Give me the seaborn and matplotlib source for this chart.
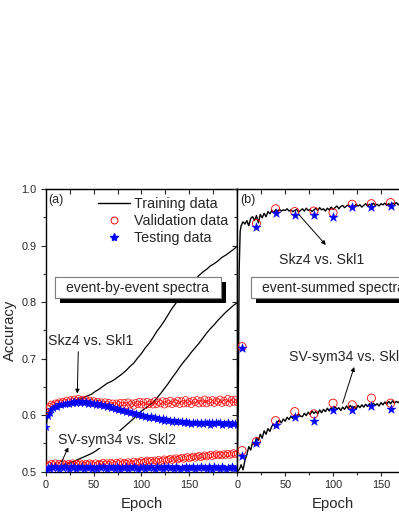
import numpy as np
import matplotlib
matplotlib.use("Agg")
import matplotlib.pyplot as plt
import matplotlib.patheffects as pe
from matplotlib.lines import Line2D
from matplotlib.patches import Rectangle
from matplotlib.ticker import FixedLocator
import seaborn as sns

# ---------------- panel (a): event-by-event spectra ----------------
# markers read every 2 epochs
a_epoch = np.arange(0, 201, 2)
a_val_skz = [.606, .612, .615, .619, .617, .621, .620, .623, .621, .624, .622,
             .626, .623, .627, .624, .628, .625, .629, .626, .627, .624,
             .628, .623, .626, .622, .625, .621, .624, .620, .623, .619,
             .623, .618, .622, .617, .621, .616, .621, .618, .622, .617,
             .622, .617, .623, .618, .621, .616, .622, .619, .624, .618,
             .623, .617, .624, .619, .622, .618, .625, .619, .623, .620,
             .625, .618, .624, .620, .626, .619, .623, .621, .626, .619,
             .625, .620, .627, .621, .624, .619, .626, .622, .627, .620,
             .625, .621, .628, .620, .626, .622, .627, .621, .625, .623,
             .628, .621, .626, .622, .629, .621, .627, .623, .628, .622]
a_test_skz = [.578, .598, .604, .611, .612, .616, .615, .619, .617, .620, .619,
              .622, .620, .623, .621, .624, .622, .625, .622, .624, .621,
              .624, .620, .623, .619, .622, .618, .621, .617, .620, .616,
              .618, .614, .617, .612, .615, .610, .613, .609, .611, .607,
              .609, .605, .607, .603, .606, .601, .604, .600, .602, .598,
              .600, .597, .599, .595, .598, .594, .596, .593, .595, .591,
              .594, .590, .593, .589, .592, .588, .591, .587, .590, .587,
              .589, .585, .589, .586, .588, .584, .588, .585, .588, .584,
              .587, .584, .588, .585, .587, .583, .588, .584, .587, .585,
              .587, .583, .586, .584, .587, .582, .586, .584, .586, .583]
a_val_sv = [.510, .513, .511, .514, .512, .515, .511, .514, .512, .515, .513,
            .511, .514, .512, .515, .511, .514, .512, .515, .513, .511,
            .514, .512, .515, .513, .511, .515, .512, .514, .513, .516,
            .513, .515, .512, .516, .514, .512, .516, .514, .517, .513,
            .516, .514, .517, .515, .513, .518, .515, .517, .516, .519,
            .516, .518, .520, .517, .519, .516, .520, .518, .521, .518,
            .520, .522, .519, .521, .523, .520, .522, .524, .521, .523,
            .525, .522, .524, .526, .523, .525, .527, .524, .526, .528,
            .525, .527, .529, .526, .528, .530, .527, .529, .531, .528,
            .530, .528, .531, .529, .532, .529, .531, .533, .530, .532]
a_test_sv = [.503, .508, .505, .509, .506, .510, .507, .505, .509, .506, .510,
             .507, .504, .509, .506, .510, .505, .508, .506, .509, .505,
             .508, .506, .510, .505, .508, .507, .504, .509, .506, .510,
             .507, .505, .509, .506, .508, .504, .509, .507, .505, .508,
             .506, .509, .505, .508, .506, .510, .507, .504, .508, .506,
             .509, .505, .508, .506, .510, .507, .505, .509, .506, .508,
             .505, .509, .507, .510, .506, .508, .505, .509, .507, .504,
             .508, .506, .510, .505, .508, .507, .509, .505, .508, .506,
             .509, .506, .508, .505, .510, .507, .505, .509, .506, .508,
             .505, .509, .507, .504, .508, .506, .510, .507, .505, .508]

# training curves
a_train_epoch = [0, 1, 2] + list(range(4, 201, 4))
a_train_skz = [.555, .585, .600,
               .608, .614, .617, .620, .621, .623, .625, .627, .628, .631,
               .634, .637, .642, .646, .651, .656, .659, .663, .668, .673,
               .679, .686, .692, .701, .709, .719, .727, .737, .748, .757,
               .767, .778, .789, .798, .808, .816, .825, .833, .840, .847,
               .853, .858, .864, .868, .873, .879, .883, .888, .893, .899]
a_train_sv = [.500, .501, .502,
              .503, .505, .507, .509, .512, .514, .517, .520, .523, .526,
              .529, .532, .536, .541, .546, .552, .558, .564, .570, .576,
              .582, .588, .594, .601, .607, .612, .617, .622, .630, .638,
              .647, .656, .666, .675, .685, .694, .702, .711, .719, .727,
              .736, .745, .753, .760, .768, .775, .782, .788, .794, .799]

# ---------------- panel (b): event-summed spectra ----------------
b_epoch = [5, 20, 40, 60, 80, 100, 120, 140, 160, 180, 200]
b_val_skz = [.721, .939, .965, .960, .961, .958, .973, .974, .976, .975, .977]
b_test_skz = [.719, .932, .957, .954, .954, .950, .968, .968, .970, .969, .971]
b_val_sv = [.537, .553, .590, .606, .602, .621, .618, .630, .621, .625, .627]
b_test_sv = [.528, .550, .582, .597, .590, .609, .609, .616, .611, .614, .615]

b_train_epoch = [0, 1, 2, 3] + list(range(4, 201, 2))
b_train_skz = [.500, .620, .860, .925,
               .935, .942, .938, .944, .935, .948, .951, .944, .953, .940,
               .955, .949, .957, .951, .960, .956, .962, .958, .963, .960,
               .964, .961, .963, .962, .965, .961, .963, .960, .962, .964,
               .959, .962, .965, .961, .966, .962, .964, .960, .963, .966,
               .962, .967, .963, .965, .961, .966, .963, .968, .964, .967,
               .970, .965, .969, .971, .967, .970, .972, .968, .971, .969,
               .973, .970, .972, .968, .971, .974, .970, .973, .971, .975,
               .971, .973, .970, .974, .972, .975, .971, .974, .972, .975,
               .973, .976, .972, .975, .973, .976, .974, .972, .975, .973,
               .976, .974, .977, .973, .975, .976, .974, .977, .975]
b_train_sv = [.500, .501, .504, .507,
              .512, .503, .520, .530, .544, .538, .552, .547, .560, .555,
              .566, .559, .572, .566, .576, .571, .580, .584, .578, .588,
              .591, .586, .593, .589, .596, .592, .598, .594, .600, .596,
              .602, .598, .597, .603, .599, .605, .601, .607, .603, .606,
              .602, .609, .604, .610, .606, .612, .607, .613, .609, .615,
              .610, .613, .608, .614, .610, .616, .611, .617, .612, .615,
              .611, .617, .613, .618, .614, .619, .615, .620, .616, .621,
              .617, .620, .616, .622, .618, .623, .619, .624, .620, .625,
              .621, .624, .622, .625, .621, .626, .622, .625, .623, .626,
              .622, .627, .623, .626, .624, .627, .623, .626, .625]

sns.set_style("ticks")
plt.rcParams['font.family'] = ['Liberation Sans', 'DejaVu Sans']

fig = plt.figure(figsize=(3.99, 5.16), dpi=100)
ax_a = fig.add_axes([0.1145, 0.0862, 0.4802, 0.5475])
ax_b = fig.add_axes([0.5947, 0.0862, 0.4802, 0.5475])

arrow = dict(arrowstyle='-|>', color='black', lw=0.7, mutation_scale=6,
             shrinkA=0, shrinkB=0)


def draw_markers(ax, x, val, test, s_val, s_test, lw_val):
    sns.scatterplot(x=x, y=val, ax=ax, marker='o', s=s_val, facecolor='none',
                    edgecolor='red', linewidth=lw_val, zorder=3)
    sns.scatterplot(x=x, y=test, ax=ax, marker='*', s=s_test, color='blue',
                    edgecolor='blue', linewidth=0.3, zorder=4)


def spectra_box(ax, x0, x1, label):
    rect = Rectangle((x0, 0.8065), x1 - x0, 0.0378, facecolor='white',
                     edgecolor='#7f7f7f', lw=0.8, zorder=6)
    rect.set_path_effects([pe.withSimplePatchShadow(offset=(3.6, -3.6), shadow_rgbFace='black', alpha=1.0),
                           pe.Normal()])
    ax.add_patch(rect)
    ax.text((x0 + x1) / 2, 0.825, label, ha='center', va='center', fontsize=10.1, zorder=7)


# panel (a)
sns.lineplot(x=a_train_epoch, y=a_train_skz, ax=ax_a, color='black', lw=0.9, sort=False, estimator=None)
sns.lineplot(x=a_train_epoch, y=a_train_sv, ax=ax_a, color='black', lw=0.9, sort=False, estimator=None)
draw_markers(ax_a, a_epoch, a_val_skz, a_test_skz, 21, 30, 0.5)
draw_markers(ax_a, a_epoch, a_val_sv, a_test_sv, 21, 30, 0.5)

ax_a.text(2.4, 0.981, "(a)", fontsize=9, ha='left', va='center')
ax_a.text(2.4, 0.731, "Skz4 vs. Skl1", fontsize=10.2, ha='left', va='center')
ax_a.annotate("", xy=(33, 0.638), xytext=(34, 0.712), arrowprops=arrow)
ax_a.text(13.2, 0.556, "SV-sym34 vs. Skl2", fontsize=10.2, ha='left', va='center', zorder=6,
          bbox=dict(facecolor='white', edgecolor='none', pad=1))
ax_a.annotate("", xy=(23.6, 0.543), xytext=(16.7, 0.517), arrowprops=arrow)
spectra_box(ax_a, 9.7, 182.7, "event-by-event spectra")

handles = [Line2D([], [], color='black', lw=1.0),
           Line2D([], [], ls='none', marker='o', ms=5, mfc='none', mec='red', mew=0.7),
           Line2D([], [], ls='none', marker='*', ms=6, color='blue')]
ax_a.legend(handles, ["Training data", "Validation data", "Testing data"],
            loc='upper left', bbox_to_anchor=(0.273, 0.97), frameon=False,
            fontsize=10.3, handlelength=2.24, handletextpad=0.25, labelspacing=0.2,
            borderpad=0, borderaxespad=0)

# panel (b)
sns.lineplot(x=b_train_epoch, y=b_train_skz, ax=ax_b, color='black', lw=1.0, sort=False, estimator=None)
sns.lineplot(x=b_train_epoch, y=b_train_sv, ax=ax_b, color='black', lw=1.0, sort=False, estimator=None)
draw_markers(ax_b, b_epoch, b_val_skz, b_test_skz, 34, 48, 0.6)
draw_markers(ax_b, b_epoch, b_val_sv, b_test_sv, 34, 48, 0.6)

ax_b.text(2.8, 0.981, "(b)", fontsize=9, ha='left', va='center')
ax_b.text(87.9, 0.874, "Skz4 vs. Skl1", fontsize=10.2, ha='center', va='center')
ax_b.annotate("", xy=(92.4, 0.901), xytext=(64.7, 0.954), arrowprops=arrow)
ax_b.text(53.7, 0.703, "SV-sym34 vs. Skl2", fontsize=10.2, ha='left', va='center')
ax_b.annotate("", xy=(122, 0.685), xytext=(110, 0.621), arrowprops=arrow)
spectra_box(ax_b, 14.3, 186, "event-summed spectra")

for ax in (ax_a, ax_b):
    ax.set_xlim(0, 200)
    ax.set_ylim(0.5, 1.0)
    ax.set_xticks([0, 50, 100, 150])
    ax.xaxis.set_minor_locator(FixedLocator([25, 75, 125, 175]))
    ax.set_yticks([0.5, 0.6, 0.7, 0.8, 0.9, 1.0])
    ax.yaxis.set_minor_locator(FixedLocator([0.55, 0.65, 0.75, 0.85, 0.95]))
    ax.tick_params(axis='x', which='major', direction='out', length=3, width=0.8, pad=3, labelsize=7.8)
    ax.tick_params(axis='x', which='minor', direction='out', length=2.5, width=0.8)
    ax.tick_params(axis='y', which='major', direction='out', length=3.5, width=0.8, pad=3, labelsize=7.8)
    ax.tick_params(axis='y', which='minor', direction='out', length=2, width=0.8)
    for sp in ax.spines.values():
        sp.set_visible(True)
        sp.set_linewidth(1.0)
        sp.set_color('black')
    top = ax.secondary_xaxis('top')
    top.set_xticks([0, 50, 100, 150, 200])
    top.xaxis.set_minor_locator(FixedLocator([25, 75, 125, 175]))
    top.tick_params(which='both', direction='in', length=3.5, width=0.8, labeltop=False)
    ax.set_xlabel("Epoch", fontsize=10.7, labelpad=5)

ax_a.set_ylabel("Accuracy", fontsize=10.7, labelpad=3)
ax_b.set_ylabel("")
ax_b.tick_params(axis='y', labelleft=False)

fig.savefig("out.png", dpi=100)
